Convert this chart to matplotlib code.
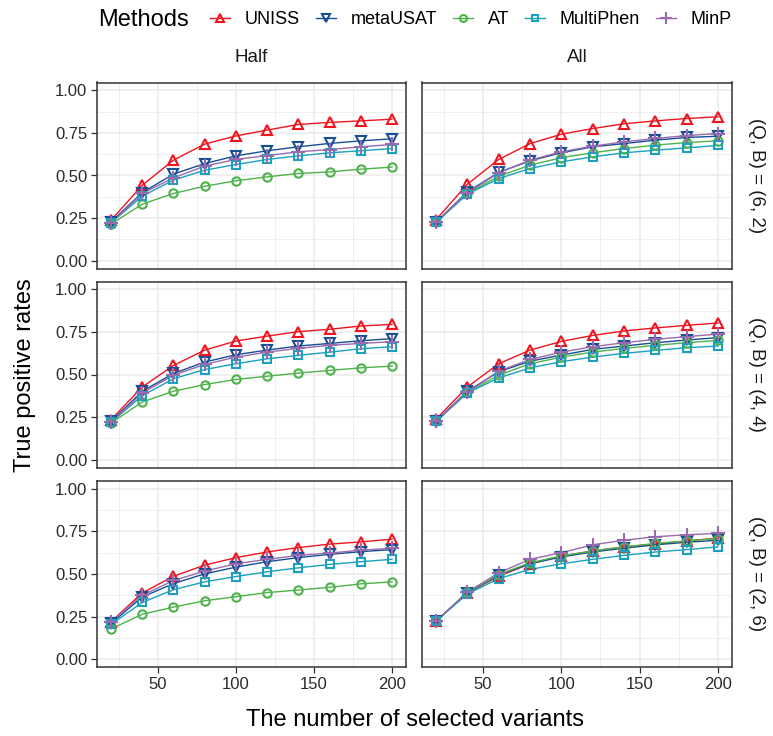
import matplotlib
matplotlib.use('Agg')
import matplotlib.pyplot as plt
from matplotlib.lines import Line2D
from matplotlib.ticker import MultipleLocator, FormatStrFormatter

plt.rcParams['font.family'] = ['Liberation Sans', 'DejaVu Sans']

# 선택된 변이 수
x = [20, 40, 60, 80, 100, 120, 140, 160, 180, 200]

methods = ['UNISS', 'metaUSAT', 'AT', 'MultiPhen', 'MinP']
columns = ['Half', 'All']
rows = ['(Q, B) = (6, 2)', '(Q, B) = (4, 4)', '(Q, B) = (2, 6)']

# (Q, B) = (6, 2), Half
h62_uniss = [.238, .443, .590, .684, .732, .766, .799, .811, .820, .830]
h62_meta = [.228, .400, .508, .570, .615, .645, .668, .688, .703, .715]
h62_at = [.215, .332, .395, .437, .469, .492, .512, .521, .537, .549]
h62_multi = [.223, .379, .473, .531, .564, .594, .615, .633, .645, .658]
h62_minp = [.223, .395, .486, .555, .594, .617, .639, .652, .668, .682]

# (Q, B) = (6, 2), All
a62_uniss = [.242, .449, .594, .687, .742, .775, .803, .820, .834, .844]
a62_meta = [.228, .404, .518, .586, .633, .668, .687, .707, .723, .730]
a62_at = [.228, .395, .496, .560, .605, .633, .658, .678, .693, .703]
a62_multi = [.225, .391, .482, .541, .580, .609, .633, .648, .662, .676]
a62_minp = [.228, .398, .516, .590, .639, .672, .697, .717, .734, .746]

# (Q, B) = (4, 4), Half
h44_uniss = [.235, .427, .553, .643, .696, .725, .751, .765, .784, .794]
h44_meta = [.225, .402, .506, .573, .616, .643, .667, .682, .698, .710]
h44_at = [.216, .339, .402, .441, .471, .490, .508, .524, .539, .549]
h44_multi = [.220, .376, .475, .529, .563, .592, .612, .631, .651, .663]
h44_minp = [.220, .392, .496, .559, .602, .631, .653, .671, .682, .692]

# (Q, B) = (4, 4), All
a44_uniss = [.239, .427, .563, .643, .694, .729, .755, .773, .788, .802]
a44_meta = [.228, .402, .516, .578, .614, .647, .667, .686, .702, .716]
a44_at = [.226, .396, .496, .563, .602, .631, .653, .671, .686, .700]
a44_multi = [.225, .392, .480, .539, .575, .602, .624, .641, .657, .667]
a44_minp = [.228, .396, .520, .588, .631, .663, .686, .706, .722, .737]

# (Q, B) = (2, 6), Half
h26_uniss = [.221, .389, .487, .552, .596, .629, .655, .675, .688, .704]
h26_meta = [.211, .365, .444, .501, .540, .572, .596, .615, .631, .643]
h26_at = [.178, .264, .306, .343, .367, .391, .406, .422, .442, .454]
h26_multi = [.205, .333, .408, .454, .485, .513, .536, .556, .572, .586]
h26_minp = [.221, .375, .462, .517, .560, .586, .609, .623, .639, .651]

# (Q, B) = (2, 6), All
a26_uniss = [.225, .390, .487, .560, .605, .635, .659, .675, .694, .710]
a26_meta = [.225, .389, .493, .560, .600, .629, .651, .671, .686, .698]
a26_at = [.225, .392, .497, .566, .606, .635, .659, .679, .694, .708]
a26_multi = [.225, .383, .473, .527, .560, .586, .609, .629, .643, .659]
a26_minp = [.225, .394, .507, .586, .625, .671, .698, .718, .730, .738]

panels = [
    [[h62_uniss, h62_meta, h62_at, h62_multi, h62_minp],
     [a62_uniss, a62_meta, a62_at, a62_multi, a62_minp]],
    [[h44_uniss, h44_meta, h44_at, h44_multi, h44_minp],
     [a44_uniss, a44_meta, a44_at, a44_multi, a44_minp]],
    [[h26_uniss, h26_meta, h26_at, h26_multi, h26_minp],
     [a26_uniss, a26_meta, a26_at, a26_multi, a26_minp]],
]

colors = ['#F0141E', '#174F95', '#4DB34A', '#1BA0BE', '#9A6AAE']
markers = ['^', 'v', 'o', 's', '+']
msizes = [7, 7, 6, 6, 10]

W, H = 773, 736
fig = plt.figure(figsize=(W / 100, H / 100), dpi=100)

col_x = [(97, 406), (422, 732)]
row_y = [(82.5, 268.5), (281.5, 467.5), (481, 667)]

border = '#333333'
for r in range(3):
    for c in range(2):
        x0, x1 = col_x[c]
        y0, y1 = row_y[r]
        ax = fig.add_axes([x0 / W, 1 - y1 / H, (x1 - x0) / W, (y1 - y0) / H])
        ax.set_xlim(11, 209)
        ax.set_ylim(-0.045, 1.045)
        ax.xaxis.set_major_locator(MultipleLocator(50))
        ax.xaxis.set_minor_locator(MultipleLocator(25))
        ax.yaxis.set_major_locator(MultipleLocator(0.25))
        ax.yaxis.set_minor_locator(MultipleLocator(0.125))
        ax.yaxis.set_major_formatter(FormatStrFormatter('%.2f'))
        ax.grid(which='major', color='#EBEBEB', lw=1.1)
        ax.grid(which='minor', color='#EBEBEB', lw=0.6)
        ax.set_axisbelow(True)
        for s in ax.spines.values():
            s.set_color(border)
            s.set_linewidth(1.1)
        ax.tick_params(which='minor', length=0)
        ax.tick_params(which='major', length=4, width=0.9, color=border,
                       labelsize=12, labelcolor='#2B2B2B', pad=3)
        if c == 1:
            ax.tick_params(axis='y', left=False, labelleft=False)
        if r < 2:
            ax.tick_params(axis='x', bottom=False, labelbottom=False)

        series = panels[r][c]
        for k in range(5):
            ax.plot(x, series[k], color=colors[k], lw=1.0, zorder=2)
        for k in range(5):
            ax.plot(x, series[k], ls='none', marker=markers[k], ms=msizes[k],
                    mfc='none', mec=colors[k], mew=1.5, zorder=3)

        if r == 0:
            ax.text(0.5, 1 + 25 / 186, columns[c], transform=ax.transAxes,
                    ha='center', va='center', fontsize=13.5, color='#1A1A1A')
        if c == 1:
            ax.text(1 + 25 / 310, 0.5, rows[r], transform=ax.transAxes,
                    ha='center', va='center', rotation=-90, fontsize=13.5,
                    color='#1A1A1A')

fig.text(25 / W, 1 - 375 / H, 'True positive rates', rotation=90,
         ha='center', va='center', fontsize=17)
fig.text(415 / W, 1 - 720 / H, 'The number of selected variants',
         ha='center', va='center', fontsize=17)

# 범례
fig.text(98 / W, 1 - 20 / H, 'Methods', ha='left', va='center', fontsize=17)
handles = [Line2D([0], [0], color=colors[k], lw=1.0, marker=markers[k],
                  ms=msizes[k] - 1, mfc='none', mec=colors[k], mew=1.5)
           for k in range(5)]
fig.legend(handles, methods, loc='center', ncol=5, frameon=False,
           bbox_to_anchor=(471 / W, 1 - 20 / H), fontsize=13,
           handlelength=1.1, handletextpad=0.8, columnspacing=0.9,
           borderpad=0, borderaxespad=0)

fig.savefig('out.png', dpi=100)
